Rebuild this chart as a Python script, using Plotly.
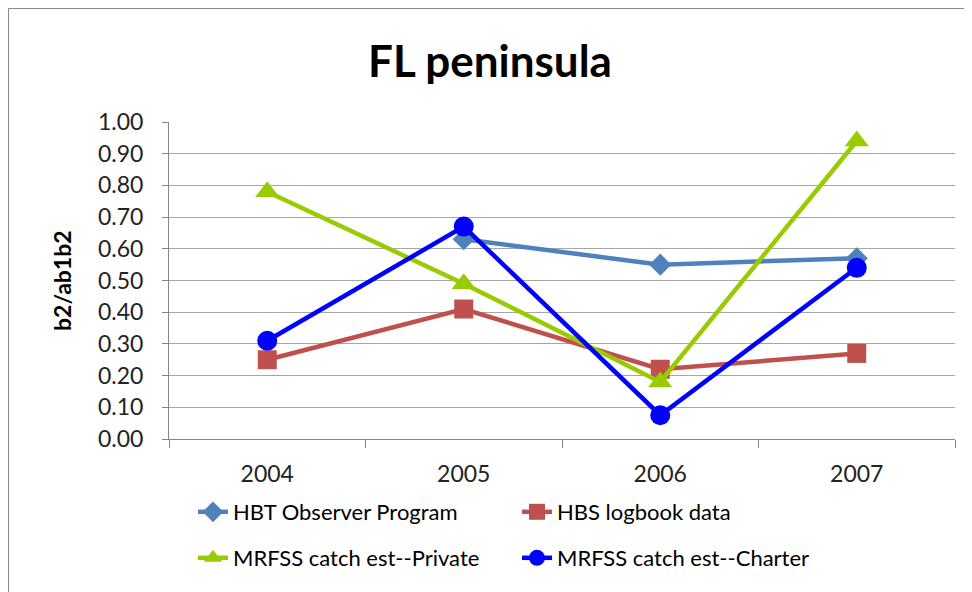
import plotly.graph_objects as go

years = ["2004", "2005", "2006", "2007"]
hbt_observer = [None, 0.63, 0.55, 0.57]
hbs_logbook = [0.25, 0.41, 0.22, 0.27]
mrfss_private = [0.78, 0.49, 0.18, 0.94]
mrfss_charter = [0.31, 0.67, 0.075, 0.54]
y_ticks = [0.0, 0.1, 0.2, 0.3, 0.4, 0.5, 0.6, 0.7, 0.8, 0.9, 1.0]

FONT = "Lato"
OFF = 8  # page body margin offset
fig = go.Figure()

series = [
    ("HBT Observer Program", hbt_observer, "#4F81BD", "diamond", 17, "legend"),
    ("HBS logbook data", hbs_logbook, "#C0504D", "square", 19, "legend"),
    ("MRFSS catch est--Private", mrfss_private, "#99CC00", "triangle-up", 21, "legend2"),
    ("MRFSS catch est--Charter", mrfss_charter, "#0000FF", "circle", 20, "legend2"),
]
for name, vals, col, sym, sz, lg in series:
    fig.add_trace(go.Scatter(
        x=years, y=vals, name=name, mode="lines+markers",
        line=dict(color=col, width=4.5),
        marker=dict(symbol=sym, size=sz, color=col),
        legend=lg, connectgaps=False,
    ))

W, H = 972 - OFF, 592 - OFF
# target page-pixel geometry of the plot area
PL, PR, PT, PB = 169, 955, 122, 439
L, T = PL - OFF, PT - OFF
R = W - (PR - OFF)
B = H - (PB - OFF)
pw, ph = PR - PL, PB - PT

def px_x(x):
    return (x - PL) / pw

def px_y(y):
    return (PB - y) / ph

fig.update_layout(
    width=W, height=H,
    margin=dict(l=L, r=R, t=T, b=B),
    paper_bgcolor="white", plot_bgcolor="white",
    font=dict(family=FONT, color="#222222"),
    title=dict(text="<b>FL peninsula</b>", x=0.5, xanchor="center",
               y=1 - (62 - OFF) / H, yanchor="middle",
               font=dict(family=FONT, size=44, color="#000000")),
    xaxis=dict(
        type="category", range=[-0.5, 3.5],
        showgrid=False, showline=True, linecolor="#868686", linewidth=1,
        ticks="outside", tickson="boundaries", ticklen=8, tickcolor="#868686",
        tickfont=dict(family=FONT, size=23, color="#222222"),
        ticklabelstandoff=14,
    ),
    yaxis=dict(
        range=[0, 1.0], tickvals=y_ticks, tickformat=".2f",
        showgrid=True, gridcolor="#A6A6A6", gridwidth=1,
        showline=True, linecolor="#868686", linewidth=1,
        ticks="outside", ticklen=6, tickcolor="#868686",
        tickfont=dict(family=FONT, size=23, color="#222222"),
        ticklabelstandoff=14,
        zeroline=False,
    ),
    annotations=[dict(text="<b>b2/ab1b2</b>", xref="paper", yref="paper",
                      x=px_x(62), y=px_y(281), xanchor="center", yanchor="middle",
                      textangle=-90, showarrow=False,
                      font=dict(family=FONT, size=23, color="#000000"))],
    legend=dict(orientation="h", x=px_x(193), y=px_y(512), xanchor="left", yanchor="middle",
                font=dict(family=FONT, size=22, color="#000000"),
                entrywidth=279, entrywidthmode="pixels", bgcolor="rgba(0,0,0,0)",
                tracegroupgap=0),
    legend2=dict(orientation="h", x=px_x(193), y=px_y(558), xanchor="left", yanchor="middle",
                 font=dict(family=FONT, size=22, color="#000000"),
                 entrywidth=279, entrywidthmode="pixels", bgcolor="rgba(0,0,0,0)",
                 tracegroupgap=0),
    shapes=[dict(type="rect", xref="paper", yref="paper",
                 x0=px_x(8), x1=px_x(1000), y0=px_y(640), y1=px_y(8),
                 line=dict(color="#8C8C8C", width=2), fillcolor="rgba(0,0,0,0)", layer="below")],
)

fig.write_html("out.html")
